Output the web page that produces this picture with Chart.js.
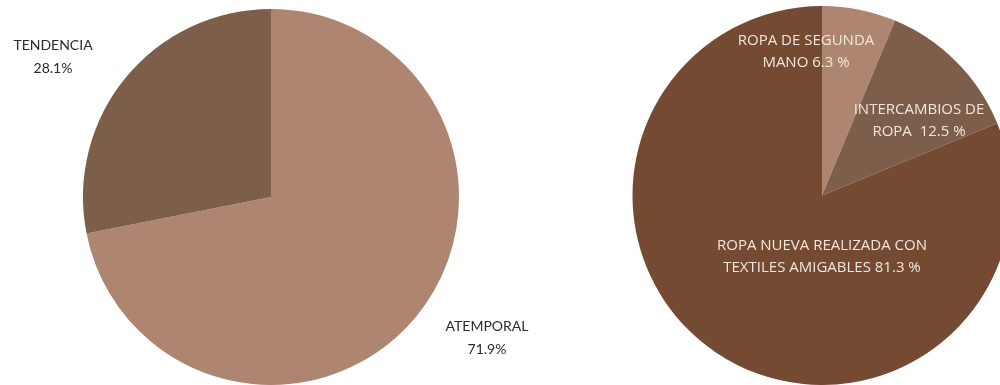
<!DOCTYPE html>
<html>
<head>
<meta charset="utf-8">
<script src="https://cdn.jsdelivr.net/npm/chart.js@4.4.1/dist/chart.umd.min.js"></script>
<style>
  html, body { margin: 0; padding: 0; background: #ffffff; }
  body { width: 1000px; height: 385px; position: relative; overflow: hidden; }
  .wrap { position: absolute; top: 0; }
  #leftWrap { left: 0; width: 542px; height: 385px; }
  #rightWrap { left: 500px; width: 644px; height: 385px; }
</style>
</head>
<body>
<div class="wrap" id="leftWrap"><canvas id="leftChart"></canvas></div>
<div class="wrap" id="rightWrap"><canvas id="rightChart"></canvas></div>
<script>
// Estilo de prenda preferido
const estiloLabels = ['ATEMPORAL', 'TENDENCIA'];
const estiloValues = [71.9, 28.1];

// Tipo de consumo sostenible
const consumoLabels = ['ROPA DE SEGUNDA MANO', 'INTERCAMBIOS DE ROPA', 'ROPA NUEVA REALIZADA CON TEXTILES AMIGABLES'];
const consumoValues = [6.3, 12.5, 81.3];

// Texto de cada etiqueta (líneas)
const estiloText = [['ATEMPORAL', '71.9%'], ['TENDENCIA', '28.1%']];
const consumoText = [['ROPA DE SEGUNDA', 'MANO 6.3 %'], ['INTERCAMBIOS DE', 'ROPA  12.5 %'], ['ROPA NUEVA REALIZADA CON', 'TEXTILES AMIGABLES 81.3 %']];

// Desplazamiento de cada etiqueta respecto al centro del círculo
const estiloOffsets = [[216, 141], [-218, -140]];
const consumoOffsets = [[-16, -144], [97, -75], [0, 61]];

// Dibuja las etiquetas de texto relativas al centro de cada gráfico
const sliceLabels = {
  id: 'sliceLabels',
  afterDatasetsDraw(chart, args, opts) {
    const ctx = chart.ctx;
    const arc = chart.getDatasetMeta(0).data[0];
    if (!arc) return;
    const cx = arc.x, cy = arc.y;
    ctx.save();
    ctx.font = opts.font;
    ctx.fillStyle = opts.color;
    ctx.textAlign = 'center';
    ctx.textBaseline = 'middle';
    opts.text.forEach((lines, i) => {
      const [dx, dy] = opts.offsets[i];
      const n = lines.length;
      lines.forEach((line, j) => {
        const y = cy + dy + (j - (n - 1) / 2) * opts.lineHeight;
        ctx.fillText(line, cx + dx, y);
      });
    });
    ctx.restore();
  }
};

new Chart(document.getElementById('leftChart'), {
  type: 'pie',
  data: {
    labels: estiloLabels,
    datasets: [{
      data: estiloValues,
      backgroundColor: ['#ae8570', '#7d5e4b'],
      borderWidth: 0
    }]
  },
  options: {
    responsive: true,
    maintainAspectRatio: false,
    animation: false,
    layout: { padding: { top: 9, bottom: 0, left: 83, right: 83 } },
    plugins: {
      legend: { display: false },
      tooltip: { enabled: false },
      sliceLabels: {
        text: estiloText,
        offsets: estiloOffsets,
        font: '14px Lato',
        color: '#2b2b2b',
        lineHeight: 23
      }
    }
  },
  plugins: [sliceLabels]
});

new Chart(document.getElementById('rightChart'), {
  type: 'pie',
  data: {
    labels: consumoLabels,
    datasets: [{
      data: consumoValues,
      backgroundColor: ['#ae8570', '#7d5e4b', '#744a33'],
      borderWidth: 0
    }]
  },
  options: {
    responsive: true,
    maintainAspectRatio: false,
    animation: false,
    layout: { padding: { top: 6, bottom: 0, left: 132, right: 132 } },
    plugins: {
      legend: { display: false },
      tooltip: { enabled: false },
      sliceLabels: {
        text: consumoText,
        offsets: consumoOffsets,
        font: '15px "Open Sans"',
        color: '#f3e6dc',
        lineHeight: 22
      }
    }
  },
  plugins: [sliceLabels]
});
</script>
</body>
</html>
